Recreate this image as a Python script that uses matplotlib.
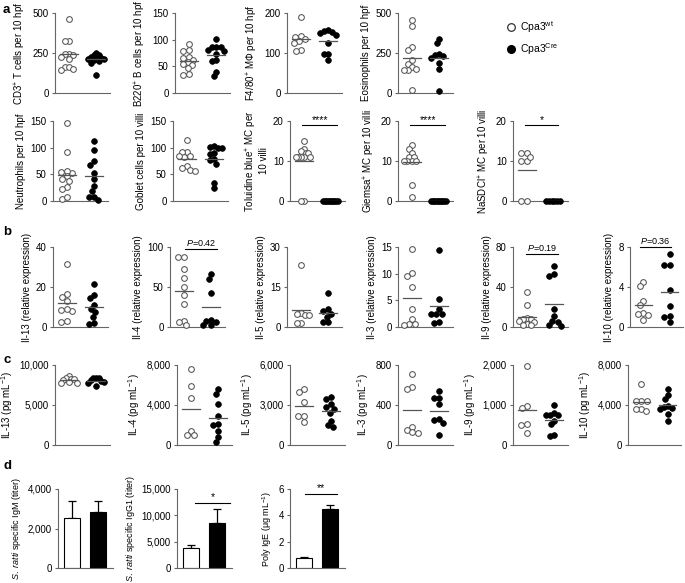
import numpy as np
import matplotlib
matplotlib.use("Agg")
import matplotlib.pyplot as plt
from matplotlib.ticker import FuncFormatter
from matplotlib.lines import Line2D

plt.rcParams['font.family'] = ['Liberation Sans', 'DejaVu Sans']
plt.rcParams['mathtext.fontset'] = 'custom'
plt.rcParams['mathtext.rm'] = 'Liberation Sans'
plt.rcParams['mathtext.it'] = 'Liberation Sans:italic'
plt.rcParams['mathtext.bf'] = 'Liberation Sans:bold'

# ---------------- data ----------------
groups = ["Cpa3wt", "Cpa3Cre"]

# panel a, row 1 (cells per 10 hpf)
cd3_wt = [460, 325, 325, 245, 245, 235, 225, 210, 160, 145, 165, 150]
cd3_cre = [250, 240, 235, 225, 220, 215, 215, 210, 205, 200, 190, 115]
b220_wt = [92, 80, 78, 68, 66, 62, 58, 55, 52, 46, 34, 36]
b220_cre = [102, 87, 86, 86, 80, 79, 73, 62, 60, 40, 31]
f480_wt = [190, 143, 140, 135, 130, 125, 108, 104]
f480_cre = [157, 155, 153, 150, 145, 125, 98, 97, 83]
eos_wt = [454, 417, 287, 267, 204, 183, 162, 146, 146, 152, 17]
eos_cre = [340, 312, 245, 240, 230, 220, 190, 152, 13]

# panel a, row 2
neut_wt = [147, 92, 55, 53, 57, 46, 41, 37, 27, 23, 4, 8]
neut_cre = [112, 95, 75, 68, 53, 41, 28, 19, 8, 7, 1]
gob_wt = [114, 92, 92, 85, 83, 84, 66, 62, 58, 56]
gob_cre = [100, 99, 102, 103, 90, 88, 77, 78, 69, 34, 24]
tol_wt = [15, 13, 12.5, 12, 12, 11, 11, 11, 11, 11, 0, 0]
tol_cre = [0] * 10
gie_wt = [14, 13, 12, 11, 11, 10, 10, 10, 10, 4, 1]
gie_cre = [0] * 10
nas_wt = [12, 12, 10, 10, 11, 0, 0]
nas_cre = [0] * 6

# panel b (relative expression)
il13_wt = [31.5, 16.5, 15, 13, 8.5, 8, 9, 3, 2.5]
il13_cre = [21.5, 16, 14.5, 11, 9, 7.5, 5, 2, 1.5]
il4_wt = [88, 87, 73, 61, 50, 40, 29, 8, 6, 2]
il4_cre = [66, 60, 43, 9, 8, 6, 2, 2]
il5_wt = [23.4, 5.2, 4.6, 4.5, 4.8, 1.5, 1.5]
il5_cre = [12.7, 6.7, 5.9, 5.0, 3.9, 1.9, 1.9]
il3_wt = [14.6, 10.2, 9.6, 7.5, 3.4, 1.5, 0.6, 0.5, 0.4]
il3_cre = [14.5, 5.2, 3.3, 2.5, 2.5, 2.4, 0.9, 0.8]
il9_wt = [35, 22, 9, 8, 8, 6, 5, 3, 2, 2]
il9_cre = [61, 53, 51, 18, 11, 6, 5, 2, 1]
il10_wt = [4.5, 4.1, 2.6, 2.2, 1.4, 1.3, 1.2, 0.7]
il10_cre = [7.3, 6.2, 6.2, 3.7, 2.1, 1.1, 1.0, 0.5]

# panel c (pg/mL)
p13_wt = [8600, 8400, 8300, 8200, 8100, 7900, 7800, 7800]
p13_cre = [8350, 8350, 8400, 8000, 8100, 7900, 7800, 7400]
p4_wt = [7600, 5900, 4750, 1400, 1000, 1050]
p4_cre = [5600, 5100, 4100, 2930, 2000, 2070, 1400, 830, 330]
p5_wt = [4200, 4000, 3200, 2200, 2200, 1700]
p5_cre = [3575, 3425, 3050, 2875, 2700, 2400, 1800, 1375, 1500]
p3_wt = [710, 583, 557, 183, 150, 117, 127]
p3_cre = [543, 473, 467, 407, 250, 217, 260, 100]
p9_wt = [1983, 975, 917, 525, 500, 308]
p9_cre = [1000, 800, 750, 750, 740, 600, 520, 250, 230]
p10_wt = [6150, 4450, 4450, 4400, 3650, 3400, 3650]
p10_cre = [5600, 5000, 4650, 3900, 3800, 3700, 3600, 3100, 2400]

# panel d (bars: mean, upper error)
igm_mean = [2530, 2835]
igm_err = [850, 540]
igg1_mean = [3750, 8625]
igg1_err = [625, 2625]
ige_mean = [0.75, 4.45]
ige_err = [0.12, 0.3]

# ---------------- figure ----------------
W, H = 685, 583
fig = plt.figure(figsize=(W / 100, H / 100), dpi=100)

SP = '#666666'
FS_T = 7
FS_L = 7


def add_ax(left, top, bottom, width=55):
    return fig.add_axes([left / W, 1 - bottom / H, width / W, (bottom - top) / H])


def fmt(v, pos):
    if float(v).is_integer():
        return '{:,.0f}'.format(v)
    return '{:g}'.format(v)


def style(ax, ymax, yticks, label, lfs=FS_L):
    ax.set_xlim(0, 4)
    ax.set_ylim(0, ymax)
    for s in ['top', 'right']:
        ax.spines[s].set_visible(False)
    for s in ['left', 'bottom']:
        ax.spines[s].set_color(SP)
        ax.spines[s].set_linewidth(0.8)
    ax.set_xticks([])
    ax.set_yticks(yticks)
    ax.yaxis.set_major_formatter(FuncFormatter(fmt))
    ax.tick_params(axis='y', length=2.5, width=0.8, color=SP, labelsize=FS_T, pad=2)
    ax.set_ylabel(label, fontsize=lfs, labelpad=3, linespacing=1.0)


def swarm(ax, center, vals, dist=5.4, maxw=8.0):
    vals = np.asarray(vals, dtype=float)
    pts = ax.transData.transform(np.column_stack([np.full(len(vals), center), vals]))
    ys = pts[:, 1]
    offs = np.zeros(len(vals))
    placed = []
    for i in np.argsort(-vals, kind='stable'):
        y = ys[i]
        cands = [0.0]
        for (px, py) in placed:
            dy = y - py
            if abs(dy) < dist:
                dx = np.sqrt(dist ** 2 - dy ** 2)
                cands += [px + dx, px - dx]
        cands = sorted(cands, key=lambda c: (abs(c), c))
        for c in cands:
            ok = all((c - px) ** 2 + (y - py) ** 2 >= dist ** 2 - 1e-6 for (px, py) in placed)
            if ok:
                offs[i] = c
                placed.append((c, y))
                break
    m = np.max(np.abs(offs)) if len(offs) else 0
    if m > maxw:
        offs = offs * maxw / m
    bb = ax.get_window_extent()
    per_px = (ax.get_xlim()[1] - ax.get_xlim()[0]) / bb.width
    return center + offs * per_px


def scatter_panel(left, top, bottom, ymax, yticks, label, wt, cre, width=55, sig=None):
    ax = add_ax(left, top, bottom, width)
    style(ax, ymax, yticks, label)
    for c, vals, filled in [(1.0, wt, False), (3.0, cre, True)]:
        xs = swarm(ax, c, vals)
        if filled:
            ax.scatter(xs, vals, s=17, facecolor='black', edgecolor='black', linewidth=0.5,
                       clip_on=False, zorder=3)
        else:
            ax.scatter(xs, vals, s=17, facecolor='white', edgecolor='#555555', linewidth=0.75,
                       clip_on=False, zorder=3)
        ax.plot([c - 0.65, c + 0.65], [np.mean(vals)] * 2, color='#555555', lw=0.9, zorder=4)
    if sig is not None:
        txt, yv, x0, x1 = sig
        ax.plot([x0, x1], [yv, yv], color='black', lw=0.8, clip_on=False)
        fs = 6.5 if 'P' in txt else 7.5
        ax.text((x0 + x1) / 2, yv + ymax * 0.01, txt, ha='center', va='bottom', fontsize=fs)
    return ax


def bar_panel(left, top, bottom, ymax, yticks, label, means, errs, sig=None):
    ax = add_ax(left, top, bottom)
    style(ax, ymax, yticks, label, lfs=6.5)
    xs = [1.0, 2.9]
    ax.bar(xs, means, width=1.2, color=['white', 'black'], edgecolor='black', linewidth=0.8, zorder=2)
    ax.errorbar(xs, means, yerr=[[0, 0], errs], fmt='none', ecolor='black', elinewidth=0.9,
                capsize=3.2, capthick=0.9, zorder=1)
    if sig is not None:
        txt, yv, x0, x1 = sig
        ax.plot([x0, x1], [yv, yv], color='black', lw=0.8, clip_on=False)
        ax.text((x0 + x1) / 2, yv + ymax * 0.01, txt, ha='center', va='bottom', fontsize=7.5)
    return ax


# row a1
scatter_panel(55, 13, 93, 500, [0, 250, 500], r'CD3$^{+}$ T cells per 10 hpf', cd3_wt, cd3_cre)
scatter_panel(175, 13, 93, 150, [0, 50, 100, 150], r'B220$^{+}$ B cells per 10 hpf', b220_wt, b220_cre)
scatter_panel(287, 13, 93, 200, [0, 100, 200], r'F4/80$^{+}$ MΦ per 10 hpf', f480_wt, f480_cre)
scatter_panel(398, 13, 93, 500, [0, 250, 500], 'Eosinophils per 10 hpf', eos_wt, eos_cre)

# row a2
scatter_panel(53, 121, 201, 150, [0, 50, 100, 150], 'Neutrophils per 10 hpf', neut_wt, neut_cre)
scatter_panel(173, 121, 201, 150, [0, 50, 100, 150], 'Goblet cells per 10 villi', gob_wt, gob_cre)
scatter_panel(290, 121, 201, 20, [0, 10, 20], 'Toluidine blue$^{+}$ MC per\n10 villi', tol_wt, tol_cre,
              sig=('****', 18.9, 0.9, 3.4))
scatter_panel(398, 121, 201, 20, [0, 10, 20], r'Giemsa$^{+}$ MC per 10 villi', gie_wt, gie_cre,
              sig=('****', 18.9, 0.9, 3.4))
scatter_panel(513, 121, 201, 20, [0, 10, 20], r'NaSDCl$^{+}$ MC per 10 villi', nas_wt, nas_cre,
              sig=('*', 18.9, 0.9, 3.3))

# row b
lab_b = '{} (relative expression)'
scatter_panel(53, 247, 327, 40, [0, 20, 40], lab_b.format('Il-13'), il13_wt, il13_cre)
scatter_panel(170, 247, 327, 100, [0, 50, 100], lab_b.format('Il-4'), il4_wt, il4_cre,
              sig=(r'$P$=0.42', 98, 1.1, 3.4))
scatter_panel(287, 247, 327, 30, [0, 15, 30], lab_b.format('Il-5'), il5_wt, il5_cre)
scatter_panel(398, 247, 327, 15, [0, 5, 10, 15], lab_b.format('Il-3'), il3_wt, il3_cre)
scatter_panel(513, 247, 327, 80, [0, 40, 80], lab_b.format('Il-9'), il9_wt, il9_cre,
              sig=(r'$P$=0.19', 73, 0.95, 3.3))
scatter_panel(630, 247, 327, 8, [0, 4, 8], lab_b.format('Il-10'), il10_wt, il10_cre, width=53,
              sig=(r'$P$=0.36', 8, 0.75, 3.1))

# row c
lab_c = r'{} (pg mL$^{{-1}}$)'
scatter_panel(55, 365, 445, 10000, [0, 5000, 10000], lab_c.format('IL-13'), p13_wt, p13_cre)
scatter_panel(177, 365, 445, 8000, [0, 4000, 8000], lab_c.format('IL-4'), p4_wt, p4_cre)
scatter_panel(290, 365, 445, 6000, [0, 3000, 6000], lab_c.format('IL-5'), p5_wt, p5_cre)
scatter_panel(398, 365, 445, 800, [0, 400, 800], lab_c.format('IL-3'), p3_wt, p3_cre)
scatter_panel(513, 365, 445, 2000, [0, 1000, 2000], lab_c.format('IL-9'), p9_wt, p9_cre)
scatter_panel(628, 365, 445, 8000, [0, 4000, 8000], lab_c.format('IL-10'), p10_wt, p10_cre, width=53)

# row d
bar_panel(58, 489, 568, 4000, [0, 2000, 4000], r'$\mathit{S.\ ratti}$ specific IgM (titer)', igm_mean, igm_err)
bar_panel(177, 489, 568, 15000, [0, 5000, 10000, 15000], r'$\mathit{S.\ ratti}$ specific IgG1 (titer)',
          igg1_mean, igg1_err, sig=('*', 12300, 1.3, 3.85))
bar_panel(290, 489, 568, 6, [0, 2, 4, 6], r'Poly IgE (μg mL$^{-1}$)', ige_mean, ige_err,
          sig=('**', 5.6, 1.1, 3.4))

# panel letters
for letter, y in [('a', 10), ('b', 232), ('c', 360), ('d', 466)]:
    fig.text(3 / W, 1 - y / H, letter, fontsize=9.5, fontweight='bold', va='center', ha='left')

# legend
handles = [Line2D([], [], marker='o', ls='none', markersize=5.5, markerfacecolor='white',
                  markeredgecolor='#333333', markeredgewidth=0.9),
           Line2D([], [], marker='o', ls='none', markersize=5.5, markerfacecolor='black',
                  markeredgecolor='black')]
fig.legend(handles, [r'Cpa3$^{\mathrm{wt}}$', r'Cpa3$^{\mathrm{Cre}}$'],
           loc='upper left', bbox_to_anchor=(500 / W, 1 - 14 / H), frameon=False,
           fontsize=7.5, handletextpad=0.2, labelspacing=0.6, borderpad=0, handlelength=1.2)

fig.savefig('out.png', dpi=100)
